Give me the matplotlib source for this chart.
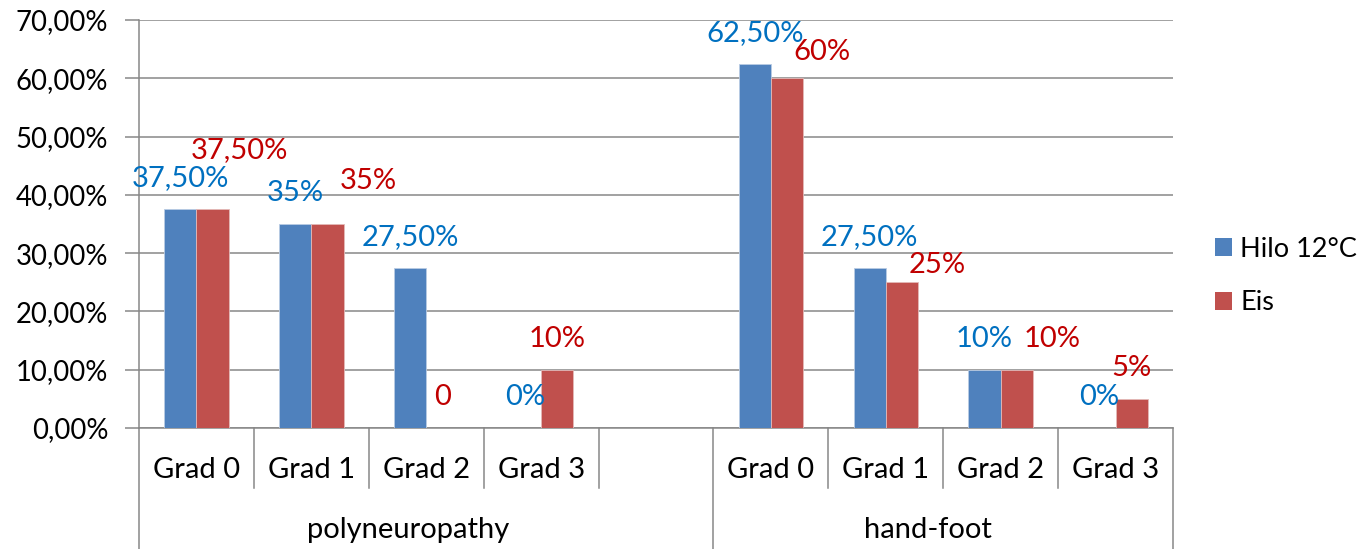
import numpy as np
import matplotlib
matplotlib.use("Agg")
import matplotlib.pyplot as plt
from matplotlib.patches import Patch

plt.rcParams["font.family"] = ["Lato", "DejaVu Sans"]

# data (percent)
groups = ["polyneuropathy", "hand-foot"]
grades = ["Grad 0", "Grad 1", "Grad 2", "Grad 3"]
hilo = [37.5, 35, 27.5, 0, 62.5, 27.5, 10, 0]
eis = [37.5, 35, 0, 10, 60, 25, 10, 5]
hilo_text = ["37,50%", "35%", "27,50%", "0%", "62,50%", "27,50%", "10%", "0%"]
eis_text = ["37,50%", "35%", "0", "10%", "60%", "25%", "10%", "5%"]
series_names = ["Hilo 12°C", "Eis"]
y_ticks = [0, 10, 20, 30, 40, 50, 60, 70]
y_tick_labels = ["0,00%", "10,00%", "20,00%", "30,00%", "40,00%", "50,00%", "60,00%", "70,00%"]

# slot positions: 4 grades, one empty slot, 4 grades
slots = np.array([0, 1, 2, 3, 5, 6, 7, 8])
# manual nudges of the red labels (x in slots, y in %)
eis_shift_x = [0.23, 0.36, 0, 0, 0.30, 0.31, 0.31, 0]
eis_shift_y = [4.9, 2.1, 0, 0, -0.8, -2.3, 0, 0]

blue = "#4F81BD"
red = "#C0504D"
blue_txt = "#0070C0"
red_txt = "#C00000"
grid_c = "#878787"
fs = 21

fig = plt.figure(figsize=(13.66, 5.49), dpi=100)
ax = fig.add_axes([139 / 1366, 121 / 549, (1173 - 139) / 1366, 408 / 549])

w = 0.28
ax.bar(slots - w / 2, hilo, w, color=blue, edgecolor="#B9CBE3", linewidth=0.6, zorder=3)
ax.bar(slots + w / 2, eis, w, color=red, edgecolor="#E3B9B8", linewidth=0.6, zorder=3)

for x, v, t in zip(slots, hilo, hilo_text):
    ax.text(x - w / 2, v + 5.3, t, color=blue_txt, fontsize=fs, ha="center", va="center")
for x, v, t, dx, dy in zip(slots, eis, eis_text, eis_shift_x, eis_shift_y):
    ax.text(x + w / 2 + dx, v + 5.3 + dy, t, color=red_txt, fontsize=fs, ha="center", va="center")

ax.set_xlim(-0.5, 8.5)
ax.set_ylim(0, 70)
ax.set_yticks(y_ticks)
ax.set_yticklabels(y_tick_labels, fontsize=19.8)
ax.tick_params(axis="y", length=10, width=1.1, color=grid_c, pad=12)
ax.set_xticks([])
ax.grid(axis="y", color=grid_c, linewidth=1.1, zorder=0)
for s in ["top", "right"]:
    ax.spines[s].set_visible(False)
for s in ["left", "bottom"]:
    ax.spines[s].set_color(grid_c)
    ax.spines[s].set_linewidth(1.1)

# multi-level category axis
tr = ax.get_xaxis_transform()
for b in np.arange(-0.5, 9, 1.0):
    low = -0.30 if b in (-0.5, 4.5, 8.5) else -0.147
    ax.plot([b, b], [0, low], transform=tr, color=grid_c, lw=1.1, clip_on=False)
for x, g in zip(slots, grades * 2):
    ax.text(x, -0.1225, g, transform=tr, fontsize=fs, ha="center", va="baseline")
ax.text(1.84, -0.27, groups[0], transform=tr, fontsize=fs, ha="center", va="baseline")
ax.text(6.37, -0.27, groups[1], transform=tr, fontsize=fs, ha="center", va="baseline")

handles = [Patch(facecolor=blue), Patch(facecolor=red)]
fig.legend(handles, series_names, loc="center left", bbox_to_anchor=(1215 / 1366, 1 - 276 / 549),
           frameon=False, fontsize=19.5, handlelength=0.63, handleheight=0.63,
           handletextpad=0.3, labelspacing=1.05, borderpad=0, borderaxespad=0)

fig.savefig("out.png", dpi=100)
